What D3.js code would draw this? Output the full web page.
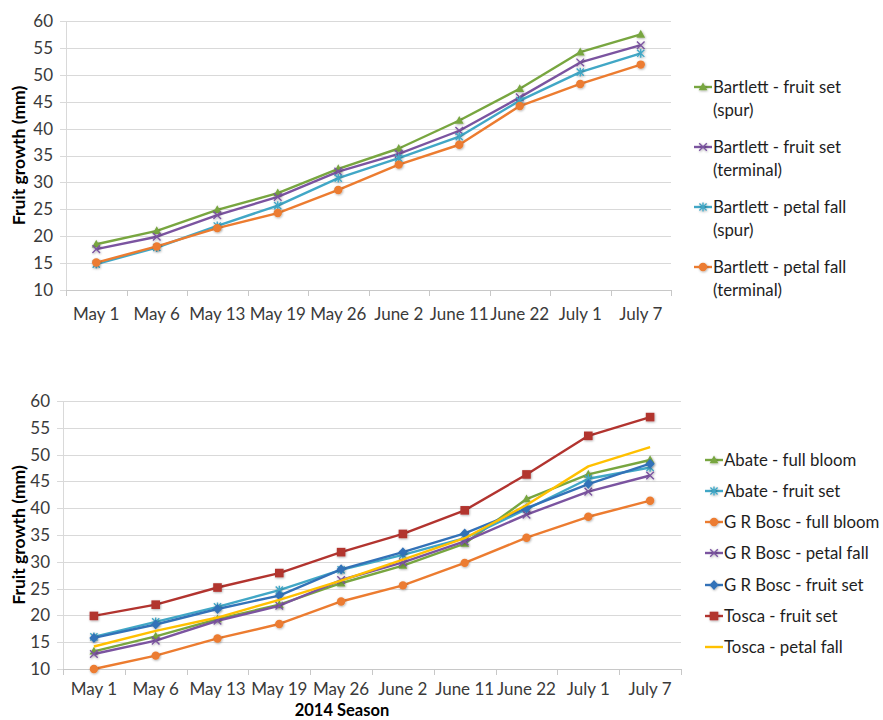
<!DOCTYPE html>
<html>
<head>
<meta charset="utf-8">
<script src="https://cdn.jsdelivr.net/npm/d3@7/dist/d3.min.js"></script>
<style>
  html, body { margin: 0; padding: 0; background: #ffffff; }
  svg { display: block; }
  text { font-family: Lato, "Open Sans", "Liberation Sans", sans-serif; }
</style>
</head>
<body>
<svg id="chart" width="883" height="720"></svg>
<script>
// Sampling dates (shared category axis)
const dates = ["May 1", "May 6", "May 13", "May 19", "May 26", "June 2", "June 11", "June 22", "July 1", "July 7"];
const yTicks = [10, 15, 20, 25, 30, 35, 40, 45, 50, 55, 60];

// Bartlett fruit diameter (mm)
const bartlettFruitSetSpur      = [18.5, 21.0, 24.9, 28.0, 32.5, 36.3, 41.5, 47.4, 54.2, 57.5];
const bartlettFruitSetTerminal  = [17.6, 19.9, 23.9, 27.3, 32.0, 35.3, 39.6, 45.8, 52.3, 55.5];
const bartlettPetalFallSpur     = [14.8, 17.9, 21.9, 25.7, 30.8, 34.5, 38.5, 45.2, 50.5, 54.0];
const bartlettPetalFallTerminal = [15.1, 18.1, 21.5, 24.3, 28.6, 33.3, 37.0, 44.2, 48.3, 51.9];

// Other cultivars, 2014 season (mm)
const abateFullBloom   = [13.3, 16.1, 19.3, 22.0, 26.0, 29.3, 33.4, 41.7, 46.3, 49.0];
const abateFruitSet    = [16.0, 18.8, 21.6, 24.7, 28.5, 31.3, 34.4, 39.8, 45.5, 47.6];
const grBoscFullBloom  = [10.0, 12.5, 15.7, 18.4, 22.6, 25.6, 29.8, 34.5, 38.4, 41.4];
const grBoscPetalFall  = [12.8, 15.3, 19.0, 21.8, 26.6, 29.9, 33.8, 38.8, 43.1, 46.1];
const grBoscFruitSet   = [15.8, 18.3, 21.2, 23.7, 28.6, 31.8, 35.3, 40.0, 44.5, 48.3];
const toscaFruitSet    = [19.9, 22.0, 25.2, 27.9, 31.8, 35.2, 39.6, 46.3, 53.5, 57.0];
const toscaPetalFall   = [14.2, 17.1, 19.6, 22.9, 26.5, 30.4, 34.4, 40.6, 47.8, 51.4];

const topSeries = [
  { lines: ["Bartlett - fruit set", "(spur)"],      values: bartlettFruitSetSpur,      color: "#78a640", marker: "triangle" },
  { lines: ["Bartlett - fruit set", "(terminal)"],  values: bartlettFruitSetTerminal,  color: "#7b54a0", marker: "x" },
  { lines: ["Bartlett - petal fall", "(spur)"],     values: bartlettPetalFallSpur,     color: "#41a7c6", marker: "star" },
  { lines: ["Bartlett - petal fall", "(terminal)"], values: bartlettPetalFallTerminal, color: "#ec7c30", marker: "circle" }
];

const bottomSeries = [
  { lines: ["Abate - full bloom"],     values: abateFullBloom,  color: "#78a640", marker: "triangle" },
  { lines: ["Abate - fruit set"],      values: abateFruitSet,   color: "#41a7c6", marker: "star" },
  { lines: ["G R Bosc - full bloom"],  values: grBoscFullBloom, color: "#ec7c30", marker: "circle" },
  { lines: ["G R Bosc - petal fall"],  values: grBoscPetalFall, color: "#7b54a0", marker: "x" },
  { lines: ["G R Bosc - fruit set"],   values: grBoscFruitSet,  color: "#3372b8", marker: "diamond" },
  { lines: ["Tosca - fruit set"],      values: toscaFruitSet,   color: "#b2342f", marker: "square" },
  { lines: ["Tosca - petal fall"],     values: toscaPetalFall,  color: "#ffc000", marker: "dash" }
];

const svg = d3.select("#chart");

// soft shadow under markers
const defs = svg.append("defs");
const f = defs.append("filter").attr("id", "mshadow").attr("x", "-50%").attr("y", "-50%").attr("width", "200%").attr("height", "200%");
f.append("feDropShadow").attr("dx", 0.6).attr("dy", 0.8).attr("stdDeviation", 0.9)
  .attr("flood-color", "#000").attr("flood-opacity", 0.35);

function drawMarker(g, type, color, x, y) {
  const m = g.append("g").attr("transform", `translate(${x},${y})`).attr("filter", "url(#mshadow)");
  switch (type) {
    case "triangle":
      m.append("path").attr("d", "M0,-4.6L4.4,3.2L-4.4,3.2Z").attr("fill", color);
      break;
    case "circle":
      m.append("circle").attr("r", 4.2).attr("fill", color);
      break;
    case "square":
      m.append("rect").attr("x", -4.3).attr("y", -4.3).attr("width", 8.6).attr("height", 8.6).attr("fill", color);
      break;
    case "diamond":
      m.append("path").attr("d", "M0,-5L4.6,0L0,5L-4.6,0Z").attr("fill", color);
      break;
    case "x":
      m.append("path").attr("d", "M-3.8,-3.8L3.8,3.8M-3.8,3.8L3.8,-3.8")
        .attr("stroke", color).attr("stroke-width", 1.4).attr("fill", "none");
      break;
    case "star":
      m.append("path").attr("d", "M-3.6,-3.6L3.6,3.6M-3.6,3.6L3.6,-3.6M0,-4.4L0,4.4")
        .attr("stroke", color).attr("stroke-width", 1.4).attr("fill", "none");
      break;
    case "dash":
      m.append("path").attr("d", "M-3.5,0L3.5,0")
        .attr("stroke", "#dc9ec4").attr("stroke-width", 2).attr("fill", "none");
      break;
  }
}

function drawPanel(opts) {
  const { left, right, top, bottom, series, legendX, legendRows, lineGap, titleY, xTitle, xPad } = opts;
  const g = svg.append("g");

  const x = d3.scaleBand().domain(dates).range([left, right]).paddingInner(0).paddingOuter(0);
  const y = d3.scaleLinear().domain([10, 60]).range([bottom, top]);

  // horizontal gridlines
  g.append("g").selectAll("line").data(yTicks).join("line")
    .attr("x1", left - 6).attr("x2", right)
    .attr("y1", d => Math.round(y(d)) + 0.5).attr("y2", d => Math.round(y(d)) + 0.5)
    .attr("stroke", "#d9d9d9").attr("stroke-width", 1);

  // y-axis labels through d3's axis
  const yAxis = d3.axisLeft(y).tickValues(yTicks).tickSize(0).tickPadding(13);
  const ya = g.append("g").attr("transform", `translate(${left},0)`).call(yAxis);
  ya.select(".domain").remove();
  ya.selectAll("text").attr("font-size", 17).attr("fill", "#3a3a3a")
    .attr("font-family", "Lato, 'Open Sans', sans-serif");

  // vertical axis line
  g.append("line").attr("x1", left + 0.5).attr("x2", left + 0.5).attr("y1", top).attr("y2", bottom)
    .attr("stroke", "#d9d9d9");

  // x-axis baseline and category boundary ticks
  g.append("line").attr("x1", left).attr("x2", right)
    .attr("y1", Math.round(bottom) + 0.5).attr("y2", Math.round(bottom) + 0.5)
    .attr("stroke", "#c8c8c8");
  const bounds = dates.map(d => x(d)).concat([x(dates[dates.length - 1]) + x.bandwidth()]);
  g.append("g").selectAll("line").data(bounds).join("line")
    .attr("x1", d => Math.round(d) + 0.5).attr("x2", d => Math.round(d) + 0.5)
    .attr("y1", bottom).attr("y2", bottom + 6)
    .attr("stroke", "#c8c8c8");

  // category labels through d3's axis
  const xAxis = d3.axisBottom(x).tickSize(0).tickPadding(xPad);
  const xa = g.append("g").attr("transform", `translate(0,${bottom})`).call(xAxis);
  xa.select(".domain").remove();
  xa.selectAll("text").attr("font-size", 17).attr("fill", "#3a3a3a")
    .attr("font-family", "Lato, 'Open Sans', sans-serif");

  // y-axis title
  g.append("text")
    .attr("transform", `translate(25,${(top + bottom) / 2}) rotate(-90)`)
    .attr("text-anchor", "middle")
    .attr("font-size", 17.5).attr("font-weight", "bold").attr("fill", "#000")
    .text("Fruit growth (mm)");

  if (xTitle) {
    g.append("text").attr("x", 342).attr("y", titleY)
      .attr("text-anchor", "middle").attr("font-size", 16.5).attr("font-weight", "bold").attr("fill", "#000")
      .text(xTitle);
  }

  // series lines and markers
  const cx = d => x(d) + x.bandwidth() / 2;
  const line = d3.line().x((d, i) => cx(dates[i])).y(d => y(d));
  series.forEach(s => {
    g.append("path").datum(s.values).attr("d", line)
      .attr("fill", "none").attr("stroke", s.color).attr("stroke-width", 2.4)
      .attr("stroke-linejoin", "round");
    s.values.forEach((v, i) => drawMarker(g, s.marker, s.color, cx(dates[i]), y(v)));
  });

  // legend
  series.forEach((s, i) => {
    const ly = legendRows[i];
    g.append("line").attr("x1", legendX - 18).attr("x2", legendX).attr("y1", ly).attr("y2", ly)
      .attr("stroke", s.color).attr("stroke-width", 2.4);
    drawMarker(g, s.marker, s.color, legendX - 9, ly);
    s.lines.forEach((t, k) => {
      g.append("text").attr("x", legendX + 1).attr("y", ly + k * lineGap).attr("dy", "0.35em")
        .attr("font-size", 16.8).attr("fill", "#1e1e1e").text(t);
    });
  });
}

drawPanel({
  left: 66, right: 671, top: 21, bottom: 290,
  series: topSeries,
  legendX: 712,
  legendRows: [87, 147, 207, 267],
  lineGap: 23,
  xPad: 18
});

drawPanel({
  left: 63, right: 681, top: 401, bottom: 669,
  series: bottomSeries,
  legendX: 723,
  legendRows: [460, 491, 522, 553, 585, 616, 647],
  lineGap: 0,
  xPad: 14,
  titleY: 715.5,
  xTitle: "2014 Season"
});
</script>
</body>
</html>
